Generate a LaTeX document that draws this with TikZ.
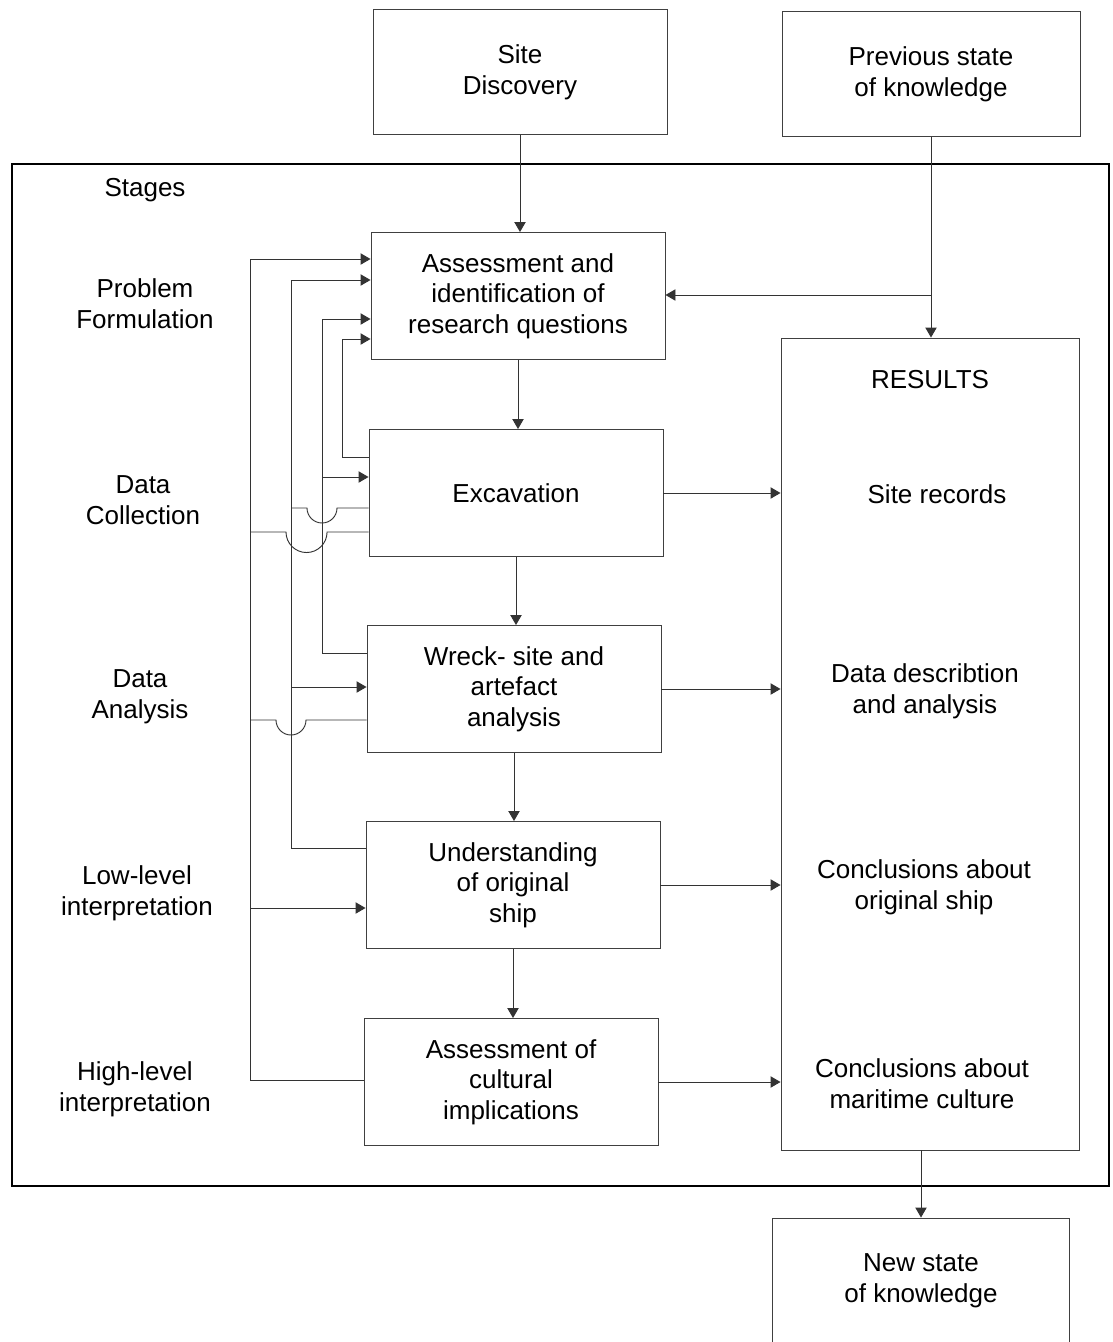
\documentclass[tikz,border=0pt]{standalone}
\usepackage{fontspec}
\setmainfont{Liberation Sans}
\usetikzlibrary{arrows.meta}
\tikzset{
  box/.style={draw=black!75, line width=0.7pt, inner sep=0pt, align=center,
    minimum width=220.5pt, minimum height=95.25pt},
  lbl/.style={align=center, inner sep=0pt},
  conn/.style={draw=black!80, line width=0.7pt},
  arr/.style={conn, -{Triangle[length=7.5pt,width=8.5pt]}},
  frame/.style={draw=black, line width=1.2pt}
}

\begin{document}
\begin{tikzpicture}[x=0.75pt,y=-0.75pt,
  every node/.style={font=\fontsize{19.5}{23}\selectfont}]
\useasboundingbox (0,0) rectangle (1113,1342);
% Frame:
\draw[frame] (12,164) rectangle (1109,1186);
% Boxes:
\node (sd) [box, minimum height=93.75pt] at (520,72) {Site\\Discovery};
\node (psk) [box, minimum width=223.5pt, minimum height=93.75pt] at (931,74) {Previous state\\of knowledge};
\node (aiq) [box] at (518,296) {Assessment and\\identification of\\research questions};
\node (exc) [box] at (516,493) {Excavation};
\node (wsa) [box] at (514,689) {Wreck- site and\\artefact\\analysis};
\node (uos) [box] at (513,885) {Understanding\\of original\\ship};
\node (aci) [box] at (511,1082) {Assessment of\\cultural\\implications};
\node (res) [box, minimum width=223.5pt, minimum height=609pt] at (930,744) {};
\node (nsk) [box, minimum width=222.75pt, minimum height=94.5pt] at (921,1281) {New state\\of knowledge};
% Stages:
\node (st0) [lbl] at (145,190) {Stages};
\node (st1) [lbl] at (145,304) {Problem\\Formulation};
\node (st2) [lbl] at (143,500) {Data\\Collection};
\node (st3) [lbl] at (140,697) {Data\\Analysis};
\node (st4) [lbl] at (137,893) {Low-level\\interpretation};
\node (st5) [lbl] at (135,1089) {High-level\\interpretation};
% Results:
\node (rs0) [lbl] at (930,380) {RESULTS};
\node (rs1) [lbl] at (937,494) {Site records};
\node (rs2) [lbl] at (925,691) {Data describtion\\and analysis};
\node (rs3) [lbl] at (924,887) {Conclusions about\\original ship};
\node (rs4) [lbl] at (922,1084) {Conclusions about\\maritime culture};
% Main flow:
\draw[arr] (sd.south) -- (sd.south |- aiq.north);
\draw[arr] (psk.south) -- (psk.south |- res.north);
\draw[arr] (psk.south |- 0,295) -- (aiq.east |- 0,295);
\draw[arr] (aiq.south) -- (aiq.south |- exc.north);
\draw[arr] (exc.south) -- (exc.south |- wsa.north);
\draw[arr] (wsa.south) -- (wsa.south |- uos.north);
\draw[arr] (uos.south) -- (uos.south |- aci.north);
\draw[arr] (nsk.north |- res.south) -- (nsk.north);
\draw[arr] (exc.east) -- (exc.east -| res.west);
\draw[arr] (wsa.east) -- (wsa.east -| res.west);
\draw[arr] (uos.east) -- (uos.east -| res.west);
\draw[arr] (aci.east) -- (aci.east -| res.west);
% Feedback:
\draw[arr] (exc.west |- 0,457) -- (342,457) -- (342,339) -- (aiq.west |- 0,339);
\draw[arr] (wsa.west |- 0,653) -- (322,653) -- (322,319) -- (aiq.west |- 0,319);
\draw[arr] (322,477) -- (exc.west |- 0,477);
\draw[arr] (uos.west |- 0,848) -- (291,848) -- (291,280) -- (aiq.west |- 0,280);
\draw[arr] (291,687) -- (wsa.west |- 0,687);
\draw[conn] (291,508) -- (307,508) arc[start angle=180, end angle=360, radius=11.25pt] -- (exc.west |- 0,508);
\draw[arr] (aci.west |- 0,1080) -- (250,1080) -- (250,259) -- (aiq.west |- 0,259);
\draw[arr] (250,908) -- (uos.west |- 0,908);
\draw[conn] (250,532) -- (286,532) arc[start angle=180, end angle=360, radius=15.4pt] -- (exc.west |- 0,532);
\draw[conn] (250,720) -- (276,720) arc[start angle=180, end angle=360, radius=11.25pt] -- (wsa.west |- 0,720);
\end{tikzpicture}
\end{document}
